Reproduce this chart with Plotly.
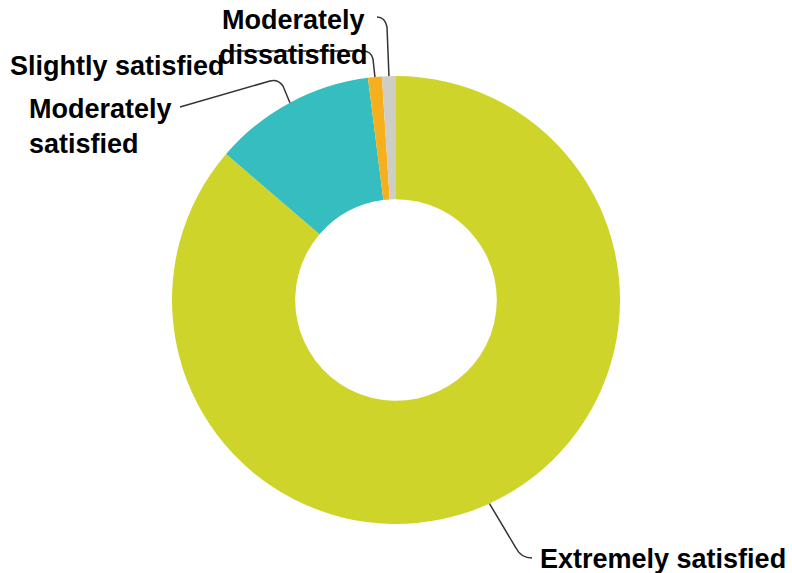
import math
import plotly.graph_objects as go

labels = ["Extremely satisfied", "Moderately satisfied", "Slightly satisfied", "Moderately dissatisfied"]
values = [86.3, 11.7, 1.0, 1.0]
colors = ["#CED42A", "#35BDBF", "#F6B01E", "#CFCEC4"]
label_text = ["Extremely satisfied", "Moderately<br>satisfied", "Slightly satisfied", "Moderately<br>dissatisfied"]

W, H = 792, 573
cx, cy, R = 396, 300, 224

fig = go.Figure()
fig.add_trace(go.Pie(
    labels=labels, values=values, sort=False, direction="clockwise", rotation=0,
    hole=0.45, textinfo="none", hoverinfo="label+percent",
    marker=dict(colors=colors, line=dict(width=0)),
    domain=dict(x=[(cx - R) / W, (cx + R) / W],
                y=[1 - (cy + R) / H, 1 - (cy - R) / H]),
    showlegend=False,
))

total = sum(values)
anchors = []
cum = 0
for v in values:
    th = math.radians((cum + v / 2) / total * 360)
    anchors.append((cx + R * math.sin(th), cy - R * math.cos(th)))
    cum += v

routes = [
    [("L", (516, 548)), ("Q", (521, 558), (532, 558))],
    [("L", (283, 86)), ("Q", (278, 79), (270, 81)), ("L", (180, 107))],
    [("L", (373, 59)), ("Q", (371, 51), (363, 51)), ("L", (223, 51))],
    [("L", (387, 27)), ("Q", (385, 17), (377, 17))],
]
for (ax, ay), route in zip(anchors, routes):
    p = f"M {ax},{ay}"
    for seg in route:
        if seg[0] == "L":
            p += f" L {seg[1][0]},{seg[1][1]}"
        else:
            p += f" Q {seg[1][0]},{seg[1][1]} {seg[2][0]},{seg[2][1]}"
    fig.add_shape(type="path", path=p, xref="x", yref="y",
                  line=dict(color="#333333", width=1.5))

font = dict(family="Liberation Sans, Arial, sans-serif", size=27, color="#000000")
pos = [
    (539, 559, "left", "left"),
    (28, 126, "left", "left"),
    (9, 66, "left", "left"),
    (293, 37, "center", "center"),
]
for txt, (x, y, xa, al) in zip(label_text, pos):
    fig.add_annotation(x=x, y=y, xref="x", yref="y", text=f"<b>{txt}</b>",
                       showarrow=False, xanchor=xa, yanchor="middle", align=al,
                       font=font, borderpad=0)

fig.update_layout(
    width=W, height=H, margin=dict(l=0, r=0, t=0, b=0),
    paper_bgcolor="white", plot_bgcolor="rgba(0,0,0,0)",
    xaxis=dict(range=[0, W], visible=False, domain=[0, 1], fixedrange=True),
    yaxis=dict(range=[H, 0], visible=False, domain=[0, 1], fixedrange=True),
)
fig.write_html("out.html", config={"displayModeBar": False},
               post_script="document.body.style.margin='0';")
